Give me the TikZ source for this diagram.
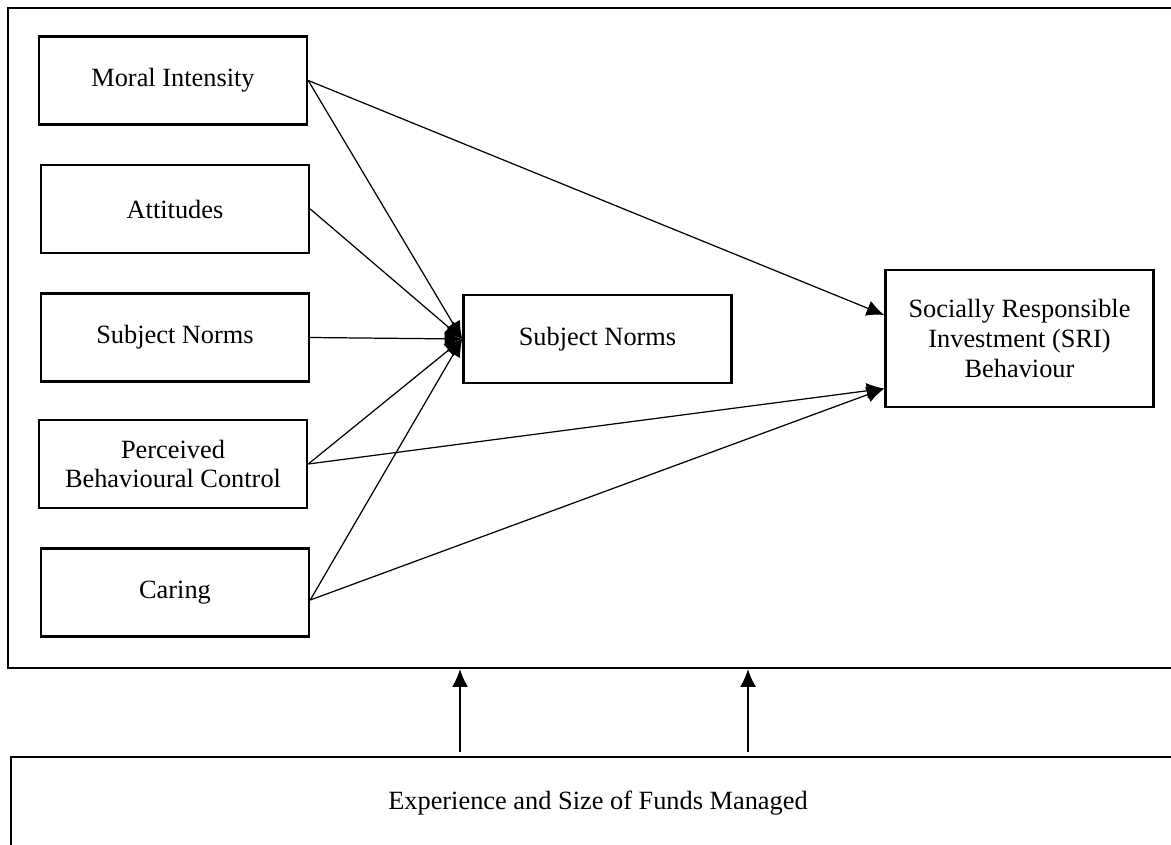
\documentclass[tikz,border=0pt]{standalone}
\usepackage{fontspec}
\setmainfont{Liberation Serif}
\usepackage{tikz}
\usetikzlibrary{arrows.meta}

\begin{document}
\begin{tikzpicture}[x=0.2mm,y=-0.2mm]
\tikzset{factor/.style = {shape=rectangle,draw,line width=1.4pt,minimum width=5.36cm,minimum height=1.76cm,align=center,font=\fontsize{15}{17}\selectfont}}
\tikzset{frame/.style = {shape=rectangle,draw,line width=1.4pt,font=\fontsize{15}{17}\selectfont}}
\tikzset{edge/.style = {->,line width=0.7pt,> = {Latex[length=10pt,width=9pt]}}}
\clip (0,0) rectangle (1171,844);
% frames
\node[frame,minimum width=23.54cm,minimum height=13.2cm] (frame) at (596.5,338) {};
\node[frame,minimum width=23.48cm,minimum height=1.84cm] (exp) at (598,803) {Experience and Size of Funds Managed};
% vertices
\node[factor] (mi)  at (173,80.5)  {Moral Intensity};
\node[factor] (att) at (175,209)   {Attitudes};
\node[factor] (sn)  at (175,337.5) {Subject Norms};
\node[factor] (pbc) at (173,464)   {Perceived\\Behavioural Control};
\node[factor] (car) at (175,592.5) {Caring};
\node[factor] (mid) at (597.5,339) {Subject Norms};
\node[factor,minimum height=2.74cm] (sri) at (1019.5,338.5) {Socially Responsible\\Investment (SRI)\\Behaviour};
\coordinate (e1) at (460,752);
\coordinate (e2) at (748,752);
%edges
\draw[edge] (mi.east)  to (mid.west);
\draw[edge] (att.east) to (mid.west);
\draw[edge] (sn.east)  to (mid.west);
\draw[edge] (pbc.east) to (mid.west);
\draw[edge] ([yshift=-0.15cm]car.east) to (mid.west);
\draw[edge] (mi.east)  to ([yshift=0.47cm]sri.west);
\draw[edge] (pbc.east) to ([yshift=-1cm]sri.west);
\draw[edge] ([yshift=-0.15cm]car.east) to ([yshift=-1cm]sri.west);
\draw[edge] (e1) to (e1 |- frame.south);
\draw[edge] (e2) to (e2 |- frame.south);
\end{tikzpicture}
\end{document}
